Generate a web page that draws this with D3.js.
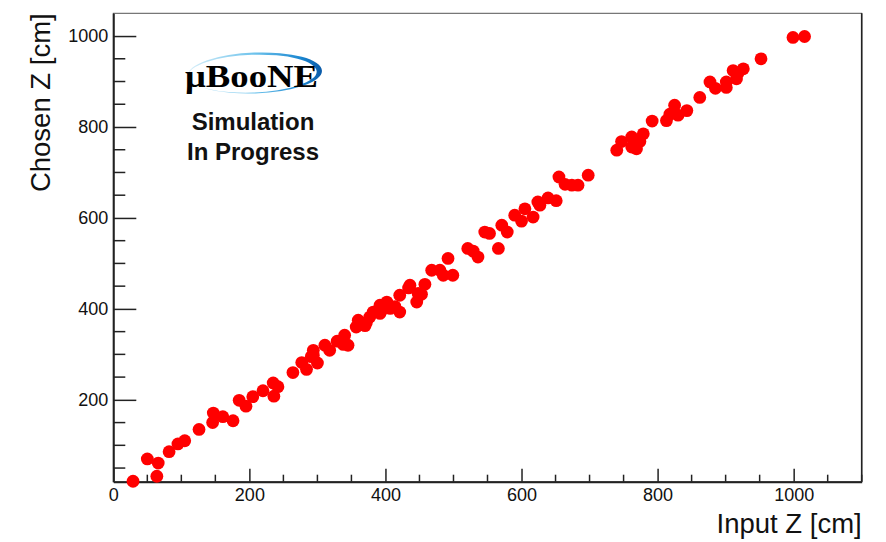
<!DOCTYPE html>
<html>
<head>
<meta charset="utf-8">
<script src="https://cdn.jsdelivr.net/npm/d3@7"></script>
<style>
  html, body { margin: 0; padding: 0; background: #fff; }
  svg { display: block; font-family: "Liberation Sans", Arial, Helvetica, sans-serif; }
</style>
</head>
<body>
<svg id="chart" width="886" height="542"></svg>
<script>
// Reconstructed vertex Z versus true vertex Z (cm)
const inputZ = [
  29, 50, 66, 64, 82, 95, 105, 126, 147, 146, 161, 176, 185, 195, 205, 220, 235, 242, 236, 264,
  277, 284, 291, 294, 300, 294, 311, 318, 329, 340, 338, 345, 357, 360, 370, 372, 377, 382, 392, 392,
  395, 402, 407, 414, 421, 421, 434, 436, 446, 448, 453, 458, 468, 480, 485, 492, 499, 521, 529, 536,
  546, 553, 566, 571, 579, 590, 600, 605, 617, 624, 627, 639, 651, 655, 664, 674, 683, 698, 740, 747,
  762, 762, 769, 774, 779, 792, 813, 818, 825, 830, 843, 862, 877, 885, 901, 901, 911, 916, 918, 926,
  952, 999, 1016
];
const chosenZ = [
  21, 70, 61, 32, 86, 103, 110, 135, 171, 150, 163, 154, 199, 186, 207, 220, 237, 229, 208, 260,
  282, 267, 295, 309, 281, 298, 320, 309, 329, 342, 322, 320, 360, 375, 363, 370, 382, 393, 390, 408,
  398, 415, 401, 405, 393, 430, 446, 452, 415, 434, 432, 454, 485, 485, 474, 511, 474, 533, 527, 514,
  569, 566, 533, 584, 569, 606, 593, 620, 602, 635, 628, 644, 638, 690, 674, 672, 672, 694, 749, 768,
  778, 756, 752, 768, 785, 813, 814, 828, 848, 826, 836, 865, 899, 885, 887, 899, 924, 906, 918, 928,
  950, 997, 999
];
const xTicks = [0, 200, 400, 600, 800, 1000];
const yTicks = [200, 400, 600, 800, 1000];
const xTitle = "Input Z [cm]";
const yTitle = "Chosen Z [cm]";
const logoName = "\u03bcBooNE";
const logoLines = ["Simulation", "In Progress"];

const svg = d3.select("#chart");
const frame = { left: 113.3, right: 861.7, top: 13.3, bottom: 481.7 };

const x = d3.scaleLinear().domain([0, 1100]).range([frame.left, frame.right]);
const y = d3.scaleLinear().domain([20, 1050]).range([frame.bottom, frame.top]);

// frame
svg.append("rect")
  .attr("x", frame.left).attr("y", frame.top)
  .attr("width", frame.right - frame.left).attr("height", frame.bottom - frame.top)
  .attr("fill", "none").attr("stroke", "#555").attr("stroke-width", 1);
svg.append("line").attr("x1", frame.right).attr("x2", frame.right).attr("y1", frame.top).attr("y2", frame.bottom)
  .attr("stroke", "#222").attr("stroke-width", 1.6);

// x axis: ticks point inward
const xMinor = d3.range(0, 1101, 50).filter(v => v % 200 !== 0);
const gx = svg.append("g").attr("transform", `translate(0,${frame.bottom})`);
gx.call(d3.axisBottom(x).tickValues(xTicks).tickSizeInner(-13).tickSizeOuter(0).tickPadding(0).tickFormat(d3.format("d")));
gx.selectAll(".tick line").attr("stroke", "#222").attr("stroke-width", 1.5);
gx.select(".domain").attr("stroke", "#222").attr("stroke-width", 2);
gx.selectAll(".tick text").attr("font-size", 18).attr("fill", "#111")
  .attr("dy", null).attr("y", 19).attr("font-family", "Liberation Sans, Arial, sans-serif");
gx.selectAll(".minor").data(xMinor).enter().append("line")
  .attr("x1", d => x(d)).attr("x2", d => x(d)).attr("y1", 0).attr("y2", -7)
  .attr("stroke", "#222").attr("stroke-width", 1.5);

// y axis
const yMinor = d3.range(50, 1050, 50).filter(v => v % 200 !== 0);
const gy = svg.append("g").attr("transform", `translate(${frame.left},0)`);
gy.call(d3.axisLeft(y).tickValues(yTicks).tickSizeInner(-23).tickSizeOuter(0).tickPadding(6).tickFormat(d3.format("d")));
gy.selectAll(".tick line").attr("stroke", "#222").attr("stroke-width", 1.5);
gy.select(".domain").attr("stroke", "#222").attr("stroke-width", 2);
gy.selectAll(".tick text").attr("font-size", 18).attr("fill", "#111")
  .attr("x", -5).attr("font-family", "Liberation Sans, Arial, sans-serif");
gy.selectAll(".minor").data(yMinor).enter().append("line")
  .attr("y1", d => y(d)).attr("y2", d => y(d)).attr("x1", 0).attr("x2", 12)
  .attr("stroke", "#222").attr("stroke-width", 1.5);

// axis titles
svg.append("text").attr("x", frame.right).attr("y", 533)
  .attr("text-anchor", "end").attr("font-size", 27.5).attr("fill", "#111").text(xTitle);
svg.append("text").attr("transform", `translate(50,${frame.top}) rotate(-90)`)
  .attr("text-anchor", "end").attr("font-size", 27.5).attr("fill", "#111").text(yTitle);

// points
svg.append("g").selectAll("circle")
  .data(inputZ.map((v, i) => [v, chosenZ[i]]))
  .enter().append("circle")
  .attr("cx", d => x(d[0])).attr("cy", d => y(d[1]))
  .attr("r", 6.4).attr("fill", "#ff0000");

// experiment logo
const defs = svg.append("defs");
const grad = defs.append("linearGradient").attr("id", "swoosh")
  .attr("x1", "0%").attr("x2", "100%").attr("y1", "0%").attr("y2", "0%");
grad.append("stop").attr("offset", "0%").attr("stop-color", "#d8eff9");
grad.append("stop").attr("offset", "50%").attr("stop-color", "#6ec3ec");
grad.append("stop").attr("offset", "85%").attr("stop-color", "#1a86d0");
grad.append("stop").attr("offset", "100%").attr("stop-color", "#0a5aa8");

const ell = (cx, cy, rx, ry) =>
  `M${cx - rx},${cy} a${rx},${ry} 0 1,0 ${2 * rx},0 a${rx},${ry} 0 1,0 ${-2 * rx},0 Z`;
const logo = svg.append("g");
logo.append("path")
  .attr("d", ell(255, 73, 67, 20.5) + ell(252.5, 73.6, 64.2, 18.9))
  .attr("fill-rule", "evenodd").attr("fill", "url(#swoosh)")
  .attr("transform", "rotate(-2 255 73)");
logo.append("text").attr("x", 185).attr("y", 87)
  .attr("font-family", "Liberation Serif, 'DejaVu Serif', serif").attr("font-weight", "bold")
  .attr("font-size", 31).attr("textLength", 133).attr("lengthAdjust", "spacingAndGlyphs")
  .attr("fill", "#000").text(logoName);
logo.selectAll(".line").data(logoLines).enter().append("text")
  .attr("x", 253).attr("y", (d, i) => 130 + i * 29.5)
  .attr("text-anchor", "middle").attr("font-weight", "bold").attr("font-size", 24)
  .attr("fill", "#111").text(d => d);
</script>
</body>
</html>
